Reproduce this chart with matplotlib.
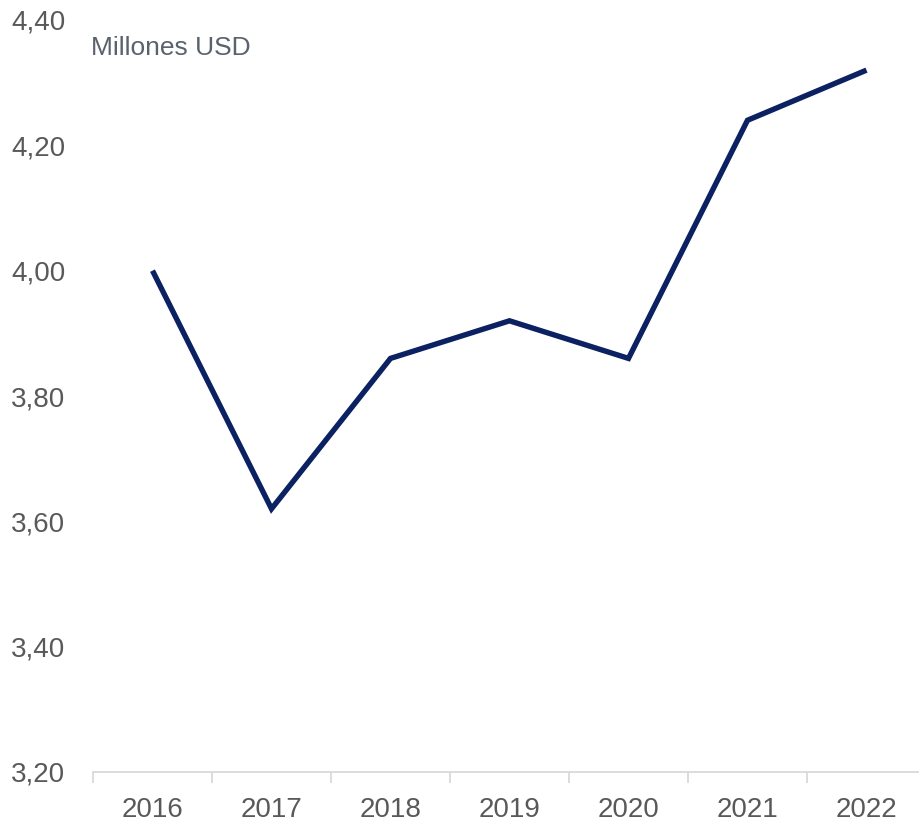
import matplotlib
matplotlib.use("Agg")
import matplotlib.pyplot as plt

years = ["2016", "2017", "2018", "2019", "2020", "2021", "2022"]
values = [4.00, 3.62, 3.86, 3.92, 3.86, 4.24, 4.32]
y_ticks = [3.20, 3.40, 3.60, 3.80, 4.00, 4.20, 4.40]
unit_label = "Millones USD"

plt.rcParams["font.family"] = ["Liberation Sans", "DejaVu Sans"]

W, H = 919, 822
fig = plt.figure(figsize=(W / 100, H / 100), dpi=100)
ax = fig.add_axes([93 / W, 50 / H, (926 - 93) / W, (772 - 20) / H])

x = list(range(len(years)))
ax.plot(x, values, color="#0b2161", lw=3.9, solid_joinstyle="miter", solid_capstyle="butt")

ax.set_xlim(-0.5, len(years) - 0.5)
ax.set_ylim(y_ticks[0], y_ticks[-1])

ax.set_yticks(y_ticks)
ax.set_yticklabels([f"{v:.2f}".replace(".", ",") for v in y_ticks])
ax.tick_params(axis="y", length=0, pad=20, labelsize=20, labelcolor="#595959")

# category labels centred, tick marks between categories
ax.set_xticks(x)
ax.set_xticklabels(years)
ax.set_xticks([i - 0.5 for i in range(len(years) + 1)], minor=True)
ax.tick_params(axis="x", which="major", length=0, pad=18, labelsize=20, labelcolor="#595959")
ax.tick_params(axis="x", which="minor", length=8, width=1.3, color="#d9d9d9")

for s in ("top", "right", "left"):
    ax.spines[s].set_visible(False)
ax.spines["bottom"].set_color("#d9d9d9")
ax.spines["bottom"].set_linewidth(1.3)

fig.text(91 / W, 1 - 48 / H, unit_label, fontsize=19, color="#5a626e", ha="left", va="center")

fig.savefig("out.png", dpi=100)
